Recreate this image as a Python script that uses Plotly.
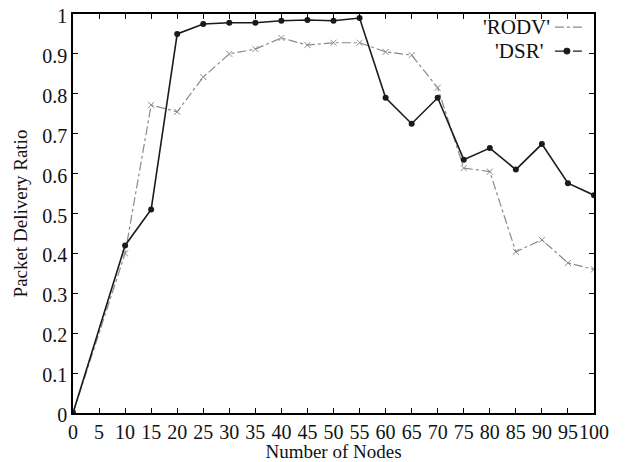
import plotly.graph_objects as go

nodes = [0, 10, 15, 20, 25, 30, 35, 40, 45, 50, 55, 60, 65, 70, 75, 80, 85, 90, 95, 100]
rodv = [0.0, 0.40, 0.772, 0.755, 0.842, 0.90, 0.912, 0.94, 0.922, 0.928, 0.928,
        0.905, 0.897, 0.815, 0.614, 0.605, 0.404, 0.434, 0.376, 0.36]
dsr = [0.0, 0.42, 0.51, 0.95, 0.975, 0.978, 0.978, 0.983, 0.985, 0.983, 0.99,
       0.79, 0.725, 0.79, 0.635, 0.664, 0.61, 0.674, 0.576, 0.546]
x_ticks = list(range(0, 101, 5))
y_ticks = [0, 0.1, 0.2, 0.3, 0.4, 0.5, 0.6, 0.7, 0.8, 0.9, 1]
y_labels = ["0", "0.1", "0.2", "0.3", "0.4", "0.5", "0.6", "0.7", "0.8", "0.9", "1"]

FONT = "Liberation Serif"

fig = go.Figure()
fig.add_trace(go.Scatter(x=nodes, y=rodv, mode="lines+markers", name="'RODV'",
                         line=dict(color="#8a8a8a", width=1.2, dash="dashdot"),
                         marker=dict(symbol="x-thin", size=6, line=dict(color="#8a8a8a", width=1))))
fig.add_trace(go.Scatter(x=nodes, y=dsr, mode="lines+markers", name="'DSR'",
                         line=dict(color="#1a1a1a", width=1.6),
                         marker=dict(symbol="circle", size=6, color="#1a1a1a")))

axis_common = dict(showgrid=False, zeroline=False, showline=True, linecolor="black",
                   linewidth=1.5, mirror="allticks", ticks="inside", ticklen=5,
                   tickcolor="black", automargin=False, tickangle=0,
                   ticklabeloverflow="allow",
                   tickfont=dict(family=FONT, size=20, color="#111"))

fig.update_xaxes(range=[0, 100], tickvals=x_ticks, ticktext=[str(v) for v in x_ticks],
                 title=dict(text="Number of Nodes", font=dict(family=FONT, size=19, color="#111"), standoff=0),
                 **axis_common)
fig.update_yaxes(range=[0, 1], tickvals=y_ticks, ticktext=y_labels, ticklabelshift=2,
                 title=dict(text="Packet Delivery Ratio", font=dict(family=FONT, size=19, color="#111"), standoff=10),
                 **axis_common)

# gnuplot-style key: text then sample to the right
key = [("'RODV'", 0.967, 0.919, dict(color="#8a8a8a", width=1.2, dash="dashdot"), None),
       ("'DSR'", 0.907, 0.905, dict(color="#1a1a1a", width=1.4, dash="dash"), "#1a1a1a")]
for label, yk, xk, ln, mk in key:
    fig.add_annotation(x=xk, y=yk, xref="paper", yref="paper", text=label, showarrow=False,
                       xanchor="right", yanchor="middle",
                       font=dict(family=FONT, size=21, color="#111"))
    fig.add_shape(type="line", xref="paper", yref="paper", x0=0.925, x1=0.98, y0=yk, y1=yk, line=ln)
    if mk:
        fig.add_shape(type="circle", xref="paper", yref="paper", x0=0.942, x1=0.954,
                      y0=yk - 0.0075, y1=yk + 0.0075, fillcolor=mk, line=dict(color=mk, width=1))

fig.update_layout(width=626, height=462, showlegend=False,
                  margin=dict(l=73, r=32, t=14, b=49),
                  plot_bgcolor="white", paper_bgcolor="white",
                  font=dict(family=FONT))

fig.write_html("out.html", config={"displayModeBar": False},
               post_script="document.body.style.margin='0';")
